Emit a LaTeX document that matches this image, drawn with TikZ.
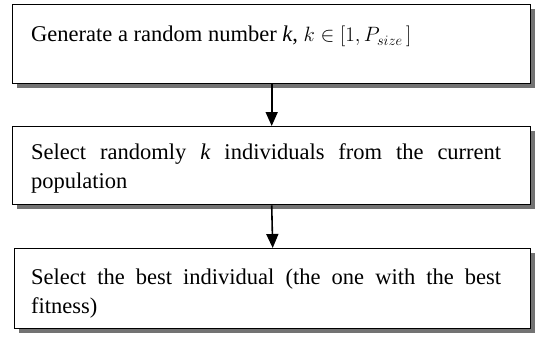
\documentclass[tikz,border=0pt]{standalone}
\usepackage{fontspec}
\setmainfont{Liberation Serif}
\usetikzlibrary{shadows,arrows.meta,calc}
\begin{document}
\begin{tikzpicture}[x=1pt,y=-1pt,
  box/.style={draw=black, line width=1.4pt, fill=white, anchor=north west,
    inner sep=0pt, minimum width=518pt, minimum height=79pt,
    drop shadow={shadow xshift=4pt, shadow yshift=-4pt, fill=black!55, opacity=1}},
  txt/.style={anchor=base west, inner sep=0pt, font=\fontsize{22.5}{29}\selectfont},
  arr/.style={line width=1.6pt, -{Triangle[length=14pt,width=12pt]}}
]
\useasboundingbox (0,0) rectangle (538,337);
\node[box] (b1) at (12,4) {};
\node[box, minimum height=78pt] (b2) at (12,126) {};
\node[box, minimum width=516pt, minimum height=80pt] (b3) at (14,248) {};
\node[txt] (t1) at (31,42) {\parbox[t]{470pt}{Generate a random number \textit{k}, $k\in[1,P_{size}\,]$}};
\node[txt] (t2) at (31,159) {\parbox[t]{470pt}{Select randomly \textit{k} individuals from the current\linebreak population}};
\node[txt] (t3) at (31,284) {\parbox[t]{470pt}{Select the best individual (the one with the best\linebreak fitness)}};
\draw[arr] (b1.south) -- (b2.north);
\draw[arr] (b2.south) -- (b3.north);
\end{tikzpicture}
\end{document}
